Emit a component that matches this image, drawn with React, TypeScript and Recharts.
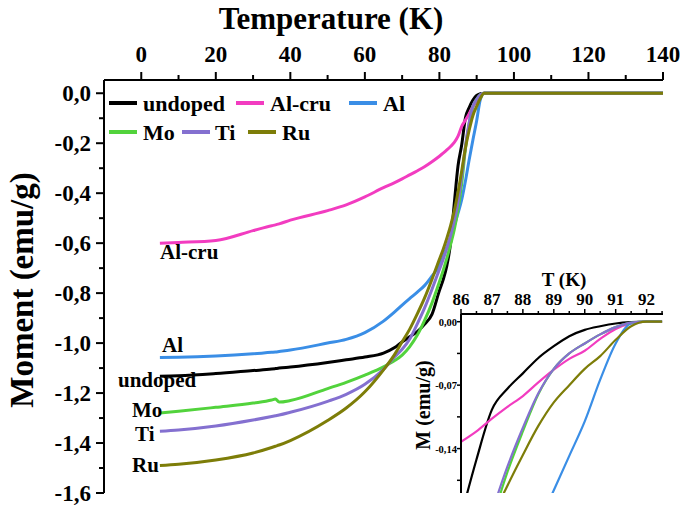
import React from 'react';
import { LineChart, Line, XAxis, YAxis, CartesianGrid } from 'recharts';

const FONT = "'Liberation Serif', 'Times New Roman', serif";

// main panel: temperature (K) and moment (emu/g)
const temps = [5, 10, 20, 30, 35, 36, 37, 40, 50, 55, 60, 65, 68, 70, 72, 74, 76, 78, 80, 81, 82, 83, 84, 85, 86, 87, 88, 89, 90, 91, 92, 100, 120, 140];
const undoped = [-1.133, -1.131, -1.122, -1.11, -1.104, -1.102, -1.1, -1.096, -1.078, -1.067, -1.056, -1.04, -1.018, -0.995, -0.975, -0.955, -0.925, -0.885, -0.79, -0.747, -0.69, -0.6, -0.44, -0.29, -0.205, -0.097, -0.057, -0.027, -0.009, -0.002, 0, 0, 0, 0];
const alCru = [-0.6, -0.597, -0.589, -0.55, -0.53, -0.527, -0.523, -0.508, -0.47, -0.447, -0.415, -0.378, -0.358, -0.343, -0.327, -0.311, -0.294, -0.274, -0.252, -0.24, -0.227, -0.213, -0.197, -0.172, -0.1325, -0.107, -0.082, -0.053, -0.032, -0.008, 0, 0, 0, 0];
const al = [-1.058, -1.057, -1.052, -1.043, -1.037, -1.036, -1.034, -1.028, -1.0, -0.985, -0.958, -0.912, -0.875, -0.848, -0.822, -0.797, -0.77, -0.732, -0.69, -0.655, -0.615, -0.575, -0.53, -0.48, -0.425, -0.35, -0.265, -0.186, -0.11, -0.024, 0, 0, 0, 0];
const mo = [-1.28, -1.273, -1.257, -1.24, -1.228, -1.224, -1.236, -1.23, -1.182, -1.157, -1.128, -1.095, -1.07, -1.048, -1.015, -0.97, -0.91, -0.84, -0.755, -0.71, -0.66, -0.605, -0.545, -0.465, -0.36, -0.22, -0.121, -0.052, -0.024, -0.006, 0, 0, 0, 0];
const ti = [-1.353, -1.348, -1.332, -1.308, -1.294, -1.291, -1.288, -1.277, -1.233, -1.205, -1.165, -1.105, -1.055, -1.025, -0.985, -0.925, -0.86, -0.785, -0.705, -0.665, -0.62, -0.57, -0.51, -0.435, -0.33, -0.21, -0.117, -0.052, -0.024, -0.006, 0, 0, 0, 0];
const ru = [-1.49, -1.485, -1.468, -1.44, -1.418, -1.413, -1.408, -1.39, -1.31, -1.26, -1.195, -1.107, -1.045, -0.995, -0.945, -0.885, -0.82, -0.745, -0.665, -0.625, -0.58, -0.53, -0.47, -0.395, -0.31, -0.218, -0.147, -0.089, -0.052, -0.02, 0, 0, 0, 0];

// inset: zoom on the transition
const insetT = [86, 86.5, 87, 87.5, 88, 88.5, 89, 89.5, 90, 90.5, 91, 91.5, 92, 92.5];
const insetUndoped = [-0.215, -0.152, -0.097, -0.074, -0.057, -0.04, -0.027, -0.016, -0.009, -0.005, -0.002, -0.0005, 0, 0];
const insetAlCru = [-0.1325, -0.121, -0.107, -0.094, -0.082, -0.067, -0.053, -0.041, -0.032, -0.019, -0.008, -0.002, 0, 0];
const insetAl = [-0.425, -0.39, -0.35, -0.31, -0.265, -0.224, -0.186, -0.148, -0.11, -0.064, -0.024, -0.002, 0, 0];
const insetMo = [-0.36, -0.28, -0.22, -0.166, -0.121, -0.08, -0.052, -0.035, -0.024, -0.014, -0.006, -0.001, 0, 0];
const insetTi = [-0.33, -0.265, -0.21, -0.16, -0.117, -0.079, -0.052, -0.035, -0.024, -0.014, -0.006, -0.001, 0, 0];
const insetRu = [-0.31, -0.265, -0.218, -0.181, -0.147, -0.115, -0.089, -0.07, -0.052, -0.038, -0.02, -0.005, 0, 0];

const topTicks = [0, 10, 20, 30, 40, 50, 60, 70, 80, 90, 100, 110, 120, 130, 140];
const leftTicks = [-1.6, -1.5, -1.4, -1.3, -1.2, -1.1, -1.0, -0.9, -0.8, -0.7, -0.6, -0.5, -0.4, -0.3, -0.2, -0.1, 0];
const insetXTicks = [86, 86.5, 87, 87.5, 88, 88.5, 89, 89.5, 90, 90.5, 91, 91.5, 92, 92.5];
const insetYTicks = [-0.175, -0.14, -0.105, -0.07, -0.035, 0];

const series = [
  { key: 'undoped', name: 'undoped', color: '#000000', main: undoped, inset: insetUndoped },
  { key: 'alCru', name: 'Al-cru', color: '#f23cc0', main: alCru, inset: insetAlCru },
  { key: 'al', name: 'Al', color: '#3a8ee6', main: al, inset: insetAl },
  { key: 'mo', name: 'Mo', color: '#52d33c', main: mo, inset: insetMo },
  { key: 'ti', name: 'Ti', color: '#8470d0', main: ti, inset: insetTi },
  { key: 'ru', name: 'Ru', color: '#7d7d08', main: ru, inset: insetRu },
];

const mainRows = temps.map((t, i) => {
  const row: any = { t };
  series.forEach((s) => (row[s.key] = s.main[i]));
  return row;
});
const insetRows = insetT.map((t, i) => {
  const row: any = { t };
  series.forEach((s) => (row[s.key] = s.inset[i]));
  return row;
});

// legend slots and curve labels
const legendPos = [
  { line: 109, text: 143, y: 103 },
  { line: 236, text: 270, y: 103 },
  { line: 349, text: 383, y: 103 },
  { line: 109, text: 143, y: 132 },
  { line: 182, text: 215, y: 132 },
  { line: 248, text: 282, y: 132 },
];
const curveLabels = [
  { text: 'Al-cru', x: 160, y: 259 },
  { text: 'Al', x: 162, y: 352 },
  { text: 'undoped', x: 118, y: 387 },
  { text: 'Mo', x: 132, y: 417 },
  { text: 'Ti', x: 135, y: 441 },
  { text: 'Ru', x: 132, y: 472 },
];

const comma = (v: number, d: number) => v.toFixed(d).replace('.', ',');

const TopTick = (p: any) => {
  const v = p.payload.value;
  const major = Math.round(v) % 20 === 0;
  return (
    <g>
      <line x1={p.x} x2={p.x} y1={p.y} y2={p.y - (major ? 8 : 5)} stroke="#000" strokeWidth={2} />
      {major && (
        <text x={p.x} y={p.y - 18} textAnchor="middle" fontFamily={FONT} fontWeight="bold" fontSize={23} fill="#000">
          {v}
        </text>
      )}
    </g>
  );
};

const LeftTick = (p: any) => {
  const v = p.payload.value;
  const major = Math.round(Math.abs(v) * 10) % 2 === 0;
  return (
    <g>
      <line x1={p.x} x2={p.x - (major ? 8 : 5)} y1={p.y} y2={p.y} stroke="#000" strokeWidth={2} />
      {major && (
        <text x={p.x - 13} y={p.y} dy={8} textAnchor="end" fontFamily={FONT} fontWeight="bold" fontSize={23} fill="#000">
          {comma(v, 1)}
        </text>
      )}
    </g>
  );
};

const InsetXTick = (p: any) => {
  const v = p.payload.value;
  const major = Number.isInteger(v);
  return (
    <g>
      <line x1={p.x} x2={p.x} y1={p.y} y2={p.y - (major ? 5 : 3)} stroke="#000" strokeWidth={1.5} />
      {major && (
        <text x={p.x} y={p.y - 9} textAnchor="middle" fontFamily={FONT} fontWeight="bold" fontSize={17} fill="#000">
          {v}
        </text>
      )}
    </g>
  );
};

const InsetYTick = (p: any) => {
  const v = p.payload.value;
  const major = Math.round(Math.abs(v) * 1000) % 70 === 0;
  return (
    <g>
      <line x1={p.x} x2={p.x - 4} y1={p.y} y2={p.y} stroke="#000" strokeWidth={1.5} />
      {major && (
        <text x={p.x - 4} y={p.y} dy={4} textAnchor="end" fontFamily={FONT} fontWeight="bold" fontSize={10.5} fill="#000">
          {comma(v, 2)}
        </text>
      )}
    </g>
  );
};

const axisLine = { stroke: '#000', strokeWidth: 2 };

export default function App() {
  return (
    <div style={{ position: 'absolute', left: 0, top: 0, width: 685, height: 508, background: '#fff' }}>
      <div style={{ position: 'absolute', left: 0, top: 0 }}>
        <LineChart width={685} height={508} data={mainRows} margin={{ top: 30, right: 22, bottom: 15, left: 44 }}>
          <XAxis
            orientation="top"
            type="number"
            dataKey="t"
            domain={[-10, 140]}
            ticks={topTicks}
            interval={0}
            height={50}
            tickSize={0}
            tickMargin={0}
            tickLine={false}
            axisLine={axisLine}
            tick={(p: any) => <TopTick {...p} />}
          />
          <XAxis xAxisId="b" orientation="bottom" type="number" dataKey="t" domain={[-10, 140]} height={0} tick={false} tickLine={false} axisLine={axisLine} />
          <YAxis
            type="number"
            domain={[-1.6, 0.053]}
            ticks={leftTicks}
            interval={0}
            width={60}
            tickSize={0}
            tickMargin={0}
            tickLine={false}
            axisLine={axisLine}
            tick={(p: any) => <LeftTick {...p} />}
          />
          <YAxis yAxisId="r" orientation="right" type="number" domain={[-1.6, 0.053]} width={0} tick={false} tickLine={false} axisLine={axisLine} />
          {series.map((s) => (
            <Line
              key={s.key}
              type="monotone"
              dataKey={s.key}
              stroke={s.color}
              strokeWidth={3}
              dot={false}
              activeDot={false}
              isAnimationActive={false}
            />
          ))}
        </LineChart>
      </div>

      <div style={{ position: 'absolute', left: 400, top: 260 }}>
        <LineChart width={285} height={248} data={insetRows} margin={{ top: 24, right: 22, bottom: 15, left: 21 }}>
          <CartesianGrid horizontal={false} vertical={false} fill="#fff" stroke="none" />
          <XAxis
            orientation="top"
            type="number"
            dataKey="t"
            domain={[86, 92.53]}
            allowDataOverflow
            ticks={insetXTicks}
            interval={0}
            height={30}
            tickSize={0}
            tickMargin={0}
            tickLine={false}
            axisLine={axisLine}
            tick={(p: any) => <InsetXTick {...p} />}
          />
          <XAxis xAxisId="b" orientation="bottom" type="number" dataKey="t" domain={[86, 92.53]} allowDataOverflow height={0} tick={false} tickLine={false} axisLine={axisLine} />
          <YAxis
            type="number"
            domain={[-0.189, 0.0085]}
            allowDataOverflow
            ticks={insetYTicks}
            interval={0}
            width={40}
            tickSize={0}
            tickMargin={0}
            tickLine={false}
            axisLine={axisLine}
            tick={(p: any) => <InsetYTick {...p} />}
          />
          <YAxis yAxisId="r" orientation="right" type="number" domain={[-0.189, 0.0085]} allowDataOverflow width={0} tick={false} tickLine={false} axisLine={axisLine} />
          {series.map((s) => (
            <Line
              key={s.key}
              type="monotone"
              dataKey={s.key}
              stroke={s.color}
              strokeWidth={2.2}
              dot={false}
              activeDot={false}
              isAnimationActive={false}
            />
          ))}
        </LineChart>
      </div>

      <svg width={685} height={508} style={{ position: 'absolute', left: 0, top: 0, pointerEvents: 'none' }}>
        <g fontFamily={FONT} fontWeight="bold" fill="#000">
          <text x={331} y={29} textAnchor="middle" fontSize={31}>Temperature (K)</text>
          <text transform="translate(33,290) rotate(-90)" textAnchor="middle" fontSize={33}>Moment (emu/g)</text>
          {series.map((s, i) => (
            <g key={s.key}>
              <line x1={legendPos[i].line} x2={legendPos[i].line + 28} y1={legendPos[i].y} y2={legendPos[i].y} stroke={s.color} strokeWidth={4} />
              <text x={legendPos[i].text} y={legendPos[i].y + 4} fontSize={22} dominantBaseline="middle" dy={-1}>{s.name}</text>
            </g>
          ))}
          {curveLabels.map((c) => (
            <text key={c.text} x={c.x} y={c.y} fontSize={21}>{c.text}</text>
          ))}
          <text x={564} y={286} textAnchor="middle" fontSize={19}>T (K)</text>
          <text transform="translate(430,405) rotate(-90)" textAnchor="middle" fontSize={20}>M (emu/g)</text>
        </g>
      </svg>
    </div>
  );
}
